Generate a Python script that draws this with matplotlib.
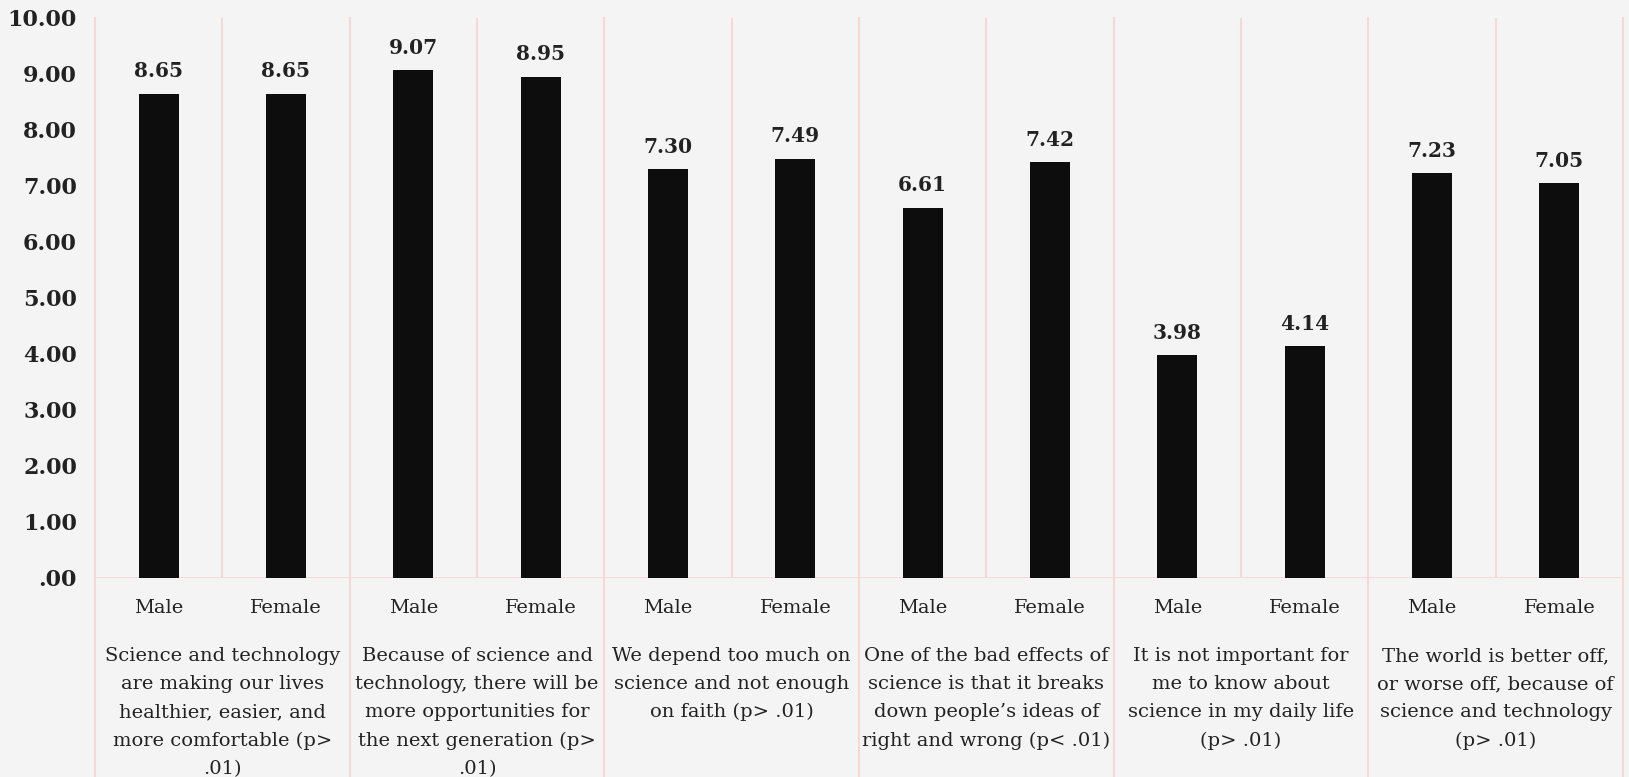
import matplotlib.pyplot as plt

plt.rcParams['font.family'] = ['DejaVu Serif']

genders = ["Male", "Female"]
statements = [
    "Science and technology\nare making our lives\nhealthier, easier, and\nmore comfortable (p>\n.01)",
    "Because of science and\ntechnology, there will be\nmore opportunities for\nthe next generation (p>\n.01)",
    "We depend too much on\nscience and not enough\non faith (p> .01)",
    "One of the bad effects of\nscience is that it breaks\ndown people\u2019s ideas of\nright and wrong (p< .01)",
    "It is not important for\nme to know about\nscience in my daily life\n(p> .01)",
    "The world is better off,\nor worse off, because of\nscience and technology\n(p> .01)",
]
male_means = [8.65, 9.07, 7.30, 6.61, 3.98, 7.23]
female_means = [8.65, 8.95, 7.49, 7.42, 4.14, 7.05]
y_ticks = [0, 1, 2, 3, 4, 5, 6, 7, 8, 9, 10]

bg = "#f4f4f4"
grid_col = "#f5d9d5"
txt_col = "#222222"

values = []
labels = []
for m, f in zip(male_means, female_means):
    values += [m, f]
    labels += genders
xs = list(range(len(values)))

W, H = 1629, 777
fig = plt.figure(figsize=(W / 100, H / 100), dpi=100, facecolor=bg)
left, right, top, bottom = 95, 1623, 18, 578
ax = fig.add_axes([left / W, (H - bottom) / H, (right - left) / W, (bottom - top) / H])
ax.set_facecolor(bg)

ax.bar(xs, values, width=0.315, color="#0d0d0d", zorder=3)
for x, v in zip(xs, values):
    ax.annotate(f"{v:.2f}", (x, v), xytext=(0, 9), textcoords="offset points",
                ha="center", va="bottom", fontsize=14.5, fontweight="bold", color=txt_col)

ax.set_xlim(-0.5, len(values) - 0.5)
ax.set_ylim(0, 10)

# dividers between the two bars of a pair
for i in range(len(statements)):
    ax.axvline(2 * i + 0.5, color=grid_col, lw=1.5, zorder=1)
# dividers between statements run down through the label area
for i in range(len(statements) + 1):
    ax.plot([2 * i - 0.5] * 2, [-0.36, 1], transform=ax.get_xaxis_transform(),
            color=grid_col, lw=1.5, clip_on=False, zorder=1)

for s in ax.spines.values():
    s.set_visible(False)
ax.axhline(0, color=grid_col, lw=2, zorder=2)

ax.set_yticks(y_ticks)
ax.set_yticklabels([f"{t:.2f}".lstrip("0") if t == 0 else f"{t:.2f}" for t in y_ticks],
                   fontsize=16, fontweight="bold", color=txt_col)
ax.set_xticks(xs)
ax.set_xticklabels(labels, fontsize=14, color=txt_col)
ax.tick_params(axis="y", length=0, pad=13)
ax.tick_params(axis="x", length=0, pad=15)

for i, s in enumerate(statements):
    ax.text(2 * i + 0.5, -0.123, s, transform=ax.get_xaxis_transform(),
            ha="center", va="top", fontsize=14, color=txt_col, linespacing=1.72)

fig.savefig("out.png", dpi=100, facecolor=bg)
